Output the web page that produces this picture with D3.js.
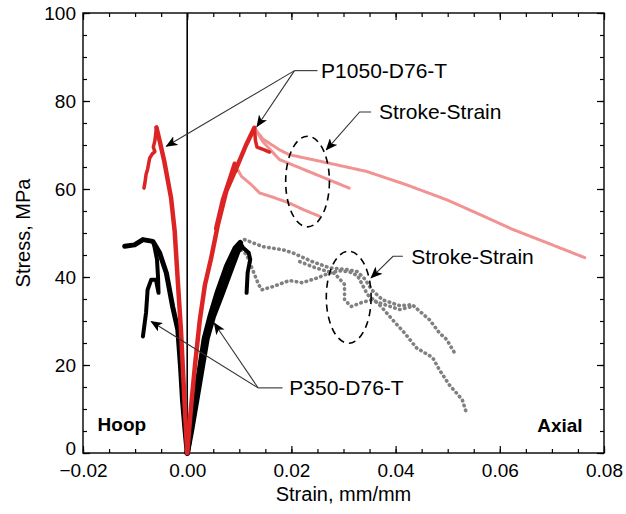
<!DOCTYPE html>
<html><head><meta charset="utf-8">
<script src="https://cdn.jsdelivr.net/npm/d3@7"></script>
<style>
body{margin:0;background:#fff;}
svg{display:block;font-family:Arial,"Liberation Sans",sans-serif;}
</style></head>
<body><svg id="chart" width="626" height="514"></svg>
<script>
// ---------- data (strain mm/mm, stress MPa) ----------
const xTicks = [-0.02, 0.00, 0.02, 0.04, 0.06, 0.08];
const yTicks = [0, 20, 40, 60, 80, 100];

const redHoopLoad = [[0,0],[-0.0004,9],[-0.0008,18.5],[-0.0012,28],[-0.0018,39],[-0.0024,50.4],[-0.0031,58],[-0.0044,66.3],[-0.0052,70.5],[-0.0059,74]];
const redHoopPost = [[-0.0059,74],[-0.0062,71],[-0.0065,69.5],[-0.0062,68.5],[-0.0067,68],[-0.0072,67],[-0.0076,64.5],[-0.0079,63.3],[-0.0081,61.5],[-0.0083,60.2]];
const redAxialLoad = [[0,0],[0.0007,10],[0.0015,20],[0.0024,30],[0.0034,38.2],[0.0046,44.3],[0.0059,51.9],[0.0075,59.5],[0.0097,65.5],[0.0113,70],[0.0129,73.9]];
const redAxialLoad2 = [[0.0055,51],[0.0068,57.5],[0.0082,62.5],[0.0091,65.8],[0.0094,64.2]];
const redAxialPost = [[0.0129,73.9],[0.0131,71],[0.0134,69.5],[0.0148,68.9],[0.0158,68.4]];

const pinkLong = [[0.0129,73.9],[0.0145,71.4],[0.0177,68.9],[0.0196,67.8],[0.0267,66],[0.0344,64],[0.042,61],[0.0497,57.6],[0.056,54.3],[0.0625,50.8],[0.069,47.8],[0.0763,44.4]];
const pinkMid = [[0.0129,73.9],[0.0145,70.8],[0.0177,66.7],[0.0241,63.6],[0.0311,60.2]];
const pinkLow = [[0.0097,64.4],[0.0104,62.9],[0.0123,61.0],[0.0139,59.1],[0.0168,58.0],[0.0196,56.8],[0.0225,55.2],[0.0254,53.8]];

const blackHoopLoad = [[0,0],[-0.0004,5],[-0.0009,12],[-0.0013,20],[-0.0018,28],[-0.0028,33.3],[-0.004,40.9],[-0.0053,45.5],[-0.0066,48.1],[-0.0085,48.5],[-0.0101,47.3],[-0.012,47]];
const blackHoopPost = [[-0.0064,47.6],[-0.0058,44],[-0.0056,40],[-0.0055,36.4],[-0.006,39.4],[-0.0069,39.4],[-0.0076,37.1],[-0.0079,31.9],[-0.0085,26.5]];
const blackAxialA = [[0,0],[0.0008,5],[0.0018,12],[0.0028,19],[0.0038,26],[0.005,31],[0.0065,35.6],[0.0084,41.7],[0.0097,45.8],[0.0104,47]];
const blackAxialB = [[0,0],[0.0006,5],[0.0014,12],[0.0024,19],[0.0033,26],[0.0044,31],[0.0058,36.5],[0.0076,42.5],[0.0092,46.5],[0.0102,47.8]];
const blackAxialPost = [[0.0104,47],[0.0118,45.5],[0.0121,44],[0.0116,41],[0.0114,36.4]];

const grayA = [[0.0110,48.5],[0.0145,46.9],[0.0183,46.2],[0.0202,45.5],[0.0240,43.5],[0.0273,42.1],[0.0306,41.7],[0.0327,41.2],[0.0342,39.4],[0.0354,37.1],[0.0375,34.8],[0.0408,33.5],[0.0432,33.7],[0.0465,30.3],[0.0484,27.3],[0.0498,25.8],[0.0513,22.8]];
const grayB = [[0.0104,46.2],[0.0114,45.1],[0.0123,42.4],[0.0137,38.3],[0.0143,37.1],[0.0164,37.8],[0.0196,39.2],[0.0221,38.7],[0.0250,39.8],[0.0273,40.9],[0.0292,41.4],[0.0311,41.2],[0.0327,40.3],[0.0346,36.0],[0.0369,33.7],[0.0394,30.3],[0.0417,27.3],[0.0440,23.9],[0.0471,21.7],[0.0484,18.9],[0.0503,15.5],[0.0528,12.1],[0.0537,8.7]];
const grayC = [[0.0216,43.5],[0.0246,42.1],[0.0283,40.8],[0.0302,38.3],[0.0302,34.8],[0.0315,33.3],[0.0335,34.2],[0.0354,34.8],[0.0379,33.7],[0.0408,32.6],[0.0432,33.3]];

// ---------- layout ----------
const W = 626, H = 514;
const m = {left:83, right:22, top:13, bottom:61};
const svg = d3.select("#chart");
const x = d3.scaleLinear().domain([-0.02, 0.08]).range([m.left, W - m.right]);
const y = d3.scaleLinear().domain([0, 100]).range([H - m.bottom, m.top]);
const RED = "#dc2424", PINK = "#f29393", GRAY = "#808080";

const line = d3.line().x(d => x(d[0])).y(d => y(d[1])).curve(d3.curveLinear);

// minor ticks
const xMinor = d3.range(-0.02, 0.0801, 0.005);
const yMinor = d3.range(0, 100.1, 5);
function styleAxis(g){ g.select(".domain").remove(); g.selectAll(".tick line").attr("stroke","#000").attr("stroke-width",1.2); }
svg.append("g").attr("transform",`translate(0,${y(0)})`).call(d3.axisBottom(x).tickValues(xMinor).tickSize(-4).tickFormat("")).call(styleAxis);
svg.append("g").attr("transform",`translate(0,${y(100)})`).call(d3.axisTop(x).tickValues(xMinor).tickSize(-4).tickFormat("")).call(styleAxis);
svg.append("g").attr("transform",`translate(${x(-0.02)},0)`).call(d3.axisLeft(y).tickValues(yMinor).tickSize(-4).tickFormat("")).call(styleAxis);
svg.append("g").attr("transform",`translate(${x(0.08)},0)`).call(d3.axisRight(y).tickValues(yMinor).tickSize(-4).tickFormat("")).call(styleAxis);

// major ticks
const fmt = d3.format(".2f");
const gx = svg.append("g").attr("transform",`translate(0,${y(0)})`).call(d3.axisBottom(x).tickValues(xTicks).tickSize(-7).tickPadding(11).tickFormat(fmt)).call(styleAxis);
svg.append("g").attr("transform",`translate(0,${y(100)})`).call(d3.axisTop(x).tickValues(xTicks).tickSize(-7).tickFormat("")).call(styleAxis);
const gy = svg.append("g").attr("transform",`translate(${x(-0.02)},0)`).call(d3.axisLeft(y).tickValues(yTicks).tickSize(-7).tickPadding(7).tickFormat(d3.format("d"))).call(styleAxis);
svg.append("g").attr("transform",`translate(${x(0.08)},0)`).call(d3.axisRight(y).tickValues(yTicks).tickSize(-7).tickFormat("")).call(styleAxis);
[gx, gy].forEach(g => g.selectAll("text").attr("font-size",19).attr("fill","#000").attr("font-family","Arial, 'Liberation Sans', sans-serif"));
gy.selectAll(".tick").filter(d => d === 0).select("text").attr("dy","0.1em");

// frame
svg.append("rect").attr("x",x(-0.02)).attr("y",y(100)).attr("width",x(0.08)-x(-0.02)).attr("height",y(0)-y(100))
  .attr("fill","none").attr("stroke","#000").attr("stroke-width",1.4);
// zero line
svg.append("line").attr("x1",x(0)).attr("x2",x(0)).attr("y1",y(100)).attr("y2",y(0)).attr("stroke","#000").attr("stroke-width",1.6);

// series
function path(data, color, w, dash){
  const p = svg.append("path").datum(data).attr("d",line).attr("fill","none").attr("stroke",color)
    .attr("stroke-width",w).attr("stroke-linejoin","round").attr("stroke-linecap","round");
  if (dash) p.attr("stroke-dasharray",dash);
  return p;
}
// gray stroke-strain dots
[grayA, grayB, grayC].forEach(d => path(d, GRAY, 3.6, "0.5,4.6"));
// pink stroke-strain
[pinkLong, pinkMid, pinkLow].forEach(d => path(d, PINK, 3, "2.2,0.9"));
// black P350
path(blackHoopLoad, "#000", 5);
path(blackHoopPost, "#000", 4);
path(blackAxialA, "#000", 5.5);
path(blackAxialB, "#000", 5.5);
path(blackAxialPost, "#000", 4);
// red P1050
path(redHoopLoad, RED, 4.5);
path(redHoopPost, RED, 3.5);
path(redAxialLoad, RED, 4.5);
path(redAxialLoad2, RED, 4);
path(redAxialPost, RED, 3.5);

// ---------- annotations ----------
const defs = svg.append("defs");
defs.append("marker").attr("id","arr").attr("viewBox","0 0 12 10").attr("refX",11).attr("refY",5)
  .attr("markerWidth",12).attr("markerHeight",10).attr("markerUnits","userSpaceOnUse").attr("orient","auto")
  .append("path").attr("d","M0,0 L12,5 L0,10 L3,5 Z").attr("fill","#000");

function leader(pts, arrow){
  svg.append("path").attr("d", d3.line()(pts.map(p => [x(p[0]), y(p[1])])))
    .attr("fill","none").attr("stroke","#333").attr("stroke-width",1.1)
    .attr("marker-end", arrow ? "url(#arr)" : null);
}
function label(txt, xv, yv, anchor, size, weight){
  svg.append("text").attr("x",x(xv)).attr("y",y(yv)).attr("dy","0.35em").attr("text-anchor",anchor||"start")
    .attr("font-size",size||21).attr("font-weight",weight||"normal").attr("fill","#000").text(txt);
}

// P1050-D76-T
leader([[0.0250,86.9],[0.0206,86.9]], false);
leader([[0.0206,86.9],[-0.0040,69.7]], true);
leader([[0.0206,86.9],[0.0134,74.2]], true);
label("P1050-D76-T", 0.0257, 86.9);

// Stroke-Strain (upper)
leader([[0.0353,77.5],[0.0331,77.5],[0.0267,68.9]], true);
label("Stroke-Strain", 0.0368, 77.5);
svg.append("ellipse").attr("cx",x(0.0231)).attr("cy",y(61.7)).attr("rx",x(0.0231+0.0042)-x(0.0231)).attr("ry",y(61.7-10.3)-y(61.7))
  .attr("fill","none").attr("stroke","#000").attr("stroke-width",1.6).attr("stroke-dasharray","7,5");

// Stroke-Strain (lower)
leader([[0.0414,44.7],[0.0395,44.7],[0.0353,39.8]], true);
label("Stroke-Strain", 0.0430, 44.7);
svg.append("ellipse").attr("cx",x(0.0310)).attr("cy",y(35.4)).attr("rx",x(0.0310+0.0043)-x(0.0310)).attr("ry",y(35.4-10.45)-y(35.4))
  .attr("fill","none").attr("stroke","#000").attr("stroke-width",1.6).attr("stroke-dasharray","7,5");

// P350-D76-T
leader([[0.0183,14.8],[0.0136,14.8]], false);
leader([[0.0136,14.8],[0.0052,29.5]], true);
leader([[0.0136,14.8],[-0.0069,29.9]], true);
label("P350-D76-T", 0.0196, 14.8);

label("Hoop", -0.0172, 6.4, "start", 19, "bold");
label("Axial", 0.0759, 6.2, "end", 19, "bold");

// axis titles
svg.append("text").attr("x",(x(-0.02)+x(0.08))/2).attr("y",H-13).attr("text-anchor","middle").attr("font-size",20).text("Strain, mm/mm");
svg.append("text").attr("transform",`translate(30,${(y(0)+y(100))/2}) rotate(-90)`).attr("text-anchor","middle").attr("font-size",20).text("Stress, MPa");
</script></body></html>
